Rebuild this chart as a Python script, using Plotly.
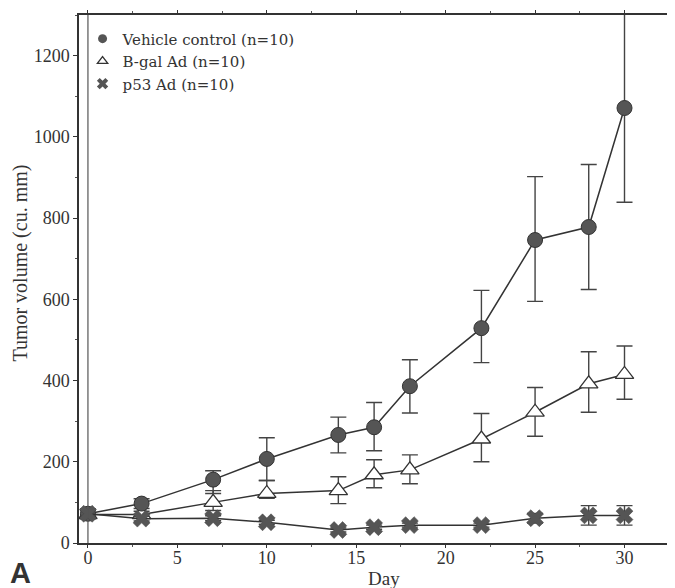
import plotly.graph_objects as go

days = [0, 3, 7, 10, 14, 16, 18, 22, 25, 28, 30]

vehicle = [72, 97, 156, 207, 266, 285, 386, 529, 746, 778, 1071]
vehicle_err_plus = [12, 12, 22, 52, 44, 61, 65, 93, 156, 154, 231]
vehicle_err_minus = [12, 12, 34, 53, 44, 58, 66, 85, 151, 154, 232]

bgal = [70, 70, 100, 122, 129, 168, 180, 256, 322, 392, 415]
bgal_err_plus = [10, 8, 29, 32, 34, 37, 37, 63, 61, 79, 70]
bgal_err_minus = [10, 8, 20, 12, 32, 32, 34, 56, 59, 70, 61]

p53 = [72, 60, 61, 51, 32, 39, 44, 44, 61, 68, 68]
p53_err = [10, 6, 6, 5, 5, 5, 5, 5, 12, 24, 24]

series_names = ["Vehicle control (n=10)", "B-gal Ad (n=10)", "p53 Ad (n=10)"]

x_ticks = [0, 5, 10, 15, 20, 25, 30]
y_ticks = [0, 200, 400, 600, 800, 1000, 1200]

SERIF = "Liberation Serif, Times New Roman, serif"
LEG_SERIF = "DejaVu Serif, Liberation Serif, serif"
LINE = "#333333"
MARK = "#555555"

fig = go.Figure()

err_style = dict(type="data", symmetric=False, color="#444444", thickness=1.4, width=8)

fig.add_trace(go.Scatter(
    x=days, y=bgal, mode="lines+markers", showlegend=False,
    line=dict(color=LINE, width=1.5),
    marker=dict(symbol="triangle-up", size=16, color="white", line=dict(color=LINE, width=1.3)),
    error_y=dict(array=bgal_err_plus, arrayminus=bgal_err_minus, **err_style),
))
fig.add_trace(go.Scatter(
    x=days, y=vehicle, mode="lines+markers", showlegend=False,
    line=dict(color=LINE, width=1.5),
    marker=dict(symbol="circle", size=15, color=MARK, line=dict(color="#333333", width=1)),
    error_y=dict(array=vehicle_err_plus, arrayminus=vehicle_err_minus, **err_style),
))
fig.add_trace(go.Scatter(
    x=days, y=p53, mode="lines+markers", showlegend=False,
    line=dict(color=LINE, width=1.5),
    marker=dict(symbol="x", size=15, color=MARK, line=dict(color="#444444", width=0.5)),
    error_y=dict(array=p53_err, arrayminus=p53_err, **err_style),
))

# legend entries (smaller symbols as in the reference)
fig.add_trace(go.Scatter(x=[None], y=[None], mode="markers", name=series_names[0],
                         marker=dict(symbol="circle", size=9, color=MARK)))
fig.add_trace(go.Scatter(x=[None], y=[None], mode="markers", name=series_names[1],
                         marker=dict(symbol="triangle-up", size=9, color="white",
                                     line=dict(color=LINE, width=1.3))))
fig.add_trace(go.Scatter(x=[None], y=[None], mode="markers", name=series_names[2],
                         marker=dict(symbol="x", size=10, color=MARK)))

# vertical line at day 0
fig.add_shape(type="line", xref="x", yref="paper", x0=0, x1=0, y0=0, y1=1,
              line=dict(color="#555555", width=1.2))

fig.add_annotation(text="<b>A</b>", xref="paper", yref="paper", x=-0.12, y=-0.056,
                   xanchor="left", yanchor="middle", showarrow=False,
                   font=dict(family="Liberation Sans, Arial, sans-serif", size=29, color="#333333"))
fig.add_annotation(text="Day", xref="paper", yref="paper", x=0.516, y=-0.068,
                   xanchor="center", yanchor="middle", showarrow=False,
                   font=dict(family=SERIF, size=19, color="#333333"))
fig.add_annotation(text="Tumor volume (cu. mm)", xref="paper", yref="paper", x=-0.098, y=0.531,
                   xanchor="center", yanchor="middle", showarrow=False, textangle=-90,
                   font=dict(family=SERIF, size=20, color="#333333"))

# page body has an 8px margin, so the figure is sized/offset to fill the 675x588 window
fig.update_layout(
    width=667, height=580,
    margin=dict(l=71, r=3, t=2, b=45),
    paper_bgcolor="white", plot_bgcolor="white",
    font=dict(family=SERIF, size=18, color="#333333"),
    legend=dict(x=0.006, y=0.986, xanchor="left", yanchor="top",
                bgcolor="rgba(0,0,0,0)", font=dict(family=LEG_SERIF, size=15, color="#333333"),
                itemwidth=30, tracegroupgap=0),
)

fig.update_xaxes(
    range=[-0.5, 32.6], tickvals=x_ticks, ticktext=[str(v) for v in x_ticks],
    showgrid=False, zeroline=False,
    showline=True, linecolor="#333333", linewidth=1.5, mirror="ticks",
    ticks="outside", ticklen=3, tickcolor="#333333", tickwidth=1,
    ticklabelstandoff=-5,
    minor=dict(ticks="outside", dtick=2.5, tick0=0, ticklen=2, tickcolor="#555555", showgrid=False),
    tickfont=dict(family=SERIF, size=18),
)
fig.update_yaxes(
    range=[0, 1300], tickvals=y_ticks, ticktext=[str(v) for v in y_ticks],
    showgrid=False, zeroline=False,
    showline=True, linecolor="#333333", linewidth=1.5, mirror=True,
    ticks="outside", ticklen=4, tickcolor="#333333", tickwidth=1,
    minor=dict(ticks="outside", dtick=100, tick0=0, ticklen=2, tickcolor="#555555", showgrid=False),
    tickfont=dict(family=SERIF, size=18),
)

fig.write_html("out.html")
